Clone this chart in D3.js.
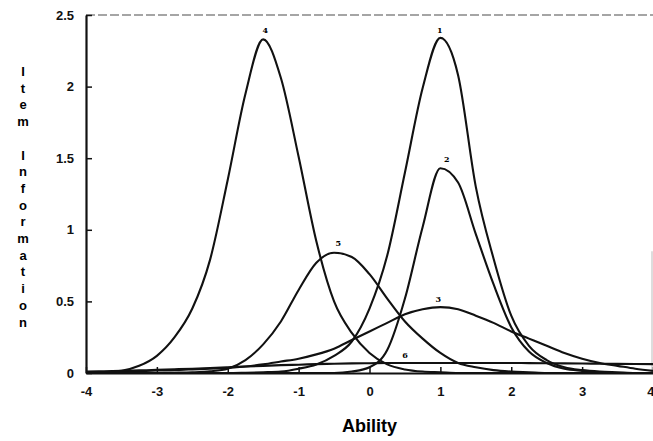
<!DOCTYPE html>
<html>
<head>
<meta charset="utf-8">
<script src="https://cdn.jsdelivr.net/npm/d3@7"></script>
<style>
  body { margin: 0; background: #fff; }
  svg { display: block; }
  .tick text { font-family: "Liberation Sans", Arial, sans-serif; font-weight: bold; font-size: 13px; fill: #111; }
  .curve { fill: none; stroke: #111; stroke-width: 2.1; }
</style>
</head>
<body>
<div id="main"></div>
<script>
const ctx = {
    SVG_W: 653,
    SVG_H: 441,
};

// ability grid (theta)
const ability = [-4,-3.75,-3.5,-3.25,-3,-2.75,-2.5,-2.25,-2,-1.75,-1.5,-1.25,-1,-0.75,-0.5,-0.25,
                 0,0.25,0.5,0.75,1,1.25,1.5,1.75,2,2.25,2.5,2.75,3,3.25,3.5,3.75,4];

// item information
const item1 = [0,0,0,0,0,0,0,0,0,0.002,0.005,0.01,0.03,0.06,0.12,0.22,
               0.45,0.82,1.40,1.99,2.34,2.08,1.30,0.80,0.40,0.19,0.09,0.04,0.02,0.01,0.005,0,0];
const item2 = [0,0,0,0,0,0,0,0,0,0,0,0,0,0,0,0.01,
               0.04,0.16,0.52,1.02,1.43,1.33,0.97,0.62,0.32,0.15,0.07,0.03,0.015,0.005,0,0,0];
const item3 = [0.005,0.007,0.01,0.013,0.017,0.02,0.025,0.03,0.035,0.045,0.06,0.08,0.10,0.13,0.17,0.23,
               0.29,0.35,0.41,0.445,0.46,0.445,0.40,0.35,0.29,0.24,0.19,0.14,0.10,0.07,0.05,0.03,0.015];
const item4 = [0,0.005,0.015,0.05,0.12,0.25,0.45,0.79,1.35,1.95,2.33,2.06,1.51,0.92,0.50,0.28,
               0.14,0.06,0.025,0.01,0.005,0,0,0,0,0,0,0,0,0,0,0,0];
const item5 = [0,0,0,0,0,0.002,0.005,0.012,0.03,0.09,0.20,0.36,0.58,0.77,0.84,0.81,
               0.69,0.52,0.36,0.24,0.14,0.07,0.04,0.02,0.01,0.005,0,0,0,0,0,0,0];
const item6 = [0.01,0.012,0.015,0.018,0.022,0.026,0.03,0.035,0.04,0.045,0.05,0.055,0.058,0.062,0.065,0.067,
               0.068,0.07,0.07,0.07,0.07,0.07,0.07,0.07,0.07,0.069,0.068,0.067,0.066,0.065,0.064,0.063,0.062];

const itemNames = ["1", "2", "3", "4", "5", "6"];
const itemSeries = [item1, item2, item3, item4, item5, item6];
// where each curve's number sits (theta, information)
const labelTheta = [0.99, 1.09, 0.97, -1.47, -0.44, 0.5];
const labelInfo = [2.34, 1.44, 0.46, 2.34, 0.85, 0.07];

const yTicks = [0, 0.5, 1, 1.5, 2, 2.5];
const xTicks = [-4, -3, -2, -1, 0, 1, 2, 3, 4];
const yTitle = ["I", "t", "e", "m", "", "I", "n", "f", "o", "r", "m", "a", "t", "i", "o", "n"];

function drawChart(svgEl) {
    let x = d3.scaleLinear().domain([-4, 4]).range([86, 653]);
    let y = d3.scaleLinear().domain([0, 2.5]).range([373, 15]);

    // frame top / right (faint, like the scan)
    svgEl.append("line")
        .attr("x1", 86).attr("x2", 653).attr("y1", y(2.5)).attr("y2", y(2.5))
        .attr("stroke", "#888").attr("stroke-width", 1.5).attr("stroke-dasharray", "9,3");
    svgEl.append("line")
        .attr("x1", 652).attr("x2", 652).attr("y1", y(0.85)).attr("y2", y(0))
        .attr("stroke", "#bbb").attr("stroke-width", 1);

    // axes, ticks point inward
    let yAxis = d3.axisLeft(y).tickValues(yTicks).tickSizeInner(-6).tickSizeOuter(0)
        .tickPadding(12).tickFormat(d3.format("~g"));
    let gy = svgEl.append("g").attr("transform", "translate(86,0)").call(yAxis);
    gy.select(".domain").attr("stroke", "#111").attr("stroke-width", 2.2);
    gy.selectAll(".tick line").attr("stroke", "#111").attr("stroke-width", 1.5);

    let xAxis = d3.axisBottom(x).tickValues(xTicks).tickSizeInner(-6).tickSizeOuter(0)
        .tickPadding(14).tickFormat(d3.format("d"));
    let gx = svgEl.append("g").attr("transform", "translate(0,373)").call(xAxis);
    gx.select(".domain").attr("stroke", "#111").attr("stroke-width", 2.2);
    gx.selectAll(".tick line").attr("stroke", "#111").attr("stroke-width", 1.5);
    gx.selectAll(".tick text")
        .text(d => d < 0 ? "-" + Math.abs(d) : d)
        .attr("text-anchor", d => d === 4 ? "end" : "middle")
        .attr("dx", d => d === 4 ? 1 : 0);

    // curves
    let line = d3.line()
        .x((d, i) => x(ability[i]))
        .y(d => y(d))
        .curve(d3.curveMonotoneX);

    svgEl.selectAll(".curve")
        .data(itemSeries)
        .enter().append("path")
        .attr("class", "curve")
        .attr("d", line);

    svgEl.selectAll(".itemLabel")
        .data(itemNames)
        .enter().append("text")
        .attr("class", "itemLabel")
        .attr("x", (d, i) => x(labelTheta[i]))
        .attr("y", (d, i) => y(labelInfo[i]) - 5)
        .attr("text-anchor", "middle")
        .style("font-family", "'DejaVu Serif', serif")
        .style("font-weight", "bold")
        .style("font-size", "8px")
        .text(d => d);

    // axis titles
    svgEl.append("text")
        .attr("x", x(0))
        .attr("y", 432)
        .attr("text-anchor", "middle")
        .style("font-family", "'Liberation Sans', Arial, sans-serif")
        .style("font-weight", "bold")
        .style("font-size", "18px")
        .text("Ability");

    svgEl.selectAll(".yTitle")
        .data(yTitle)
        .enter().append("text")
        .attr("class", "yTitle")
        .attr("x", 23)
        .attr("y", (d, i) => 76 + i * 16.7)
        .attr("text-anchor", "middle")
        .style("font-family", "'Liberation Sans', Arial, sans-serif")
        .style("font-weight", "bold")
        .style("font-size", "13px")
        .text(d => d);
}

function createViz() {
    let svgEl = d3.select("#main").append("svg");
    svgEl.attr("width", ctx.SVG_W);
    svgEl.attr("height", ctx.SVG_H);
    drawChart(svgEl);
}

createViz();
</script>
</body>
</html>
